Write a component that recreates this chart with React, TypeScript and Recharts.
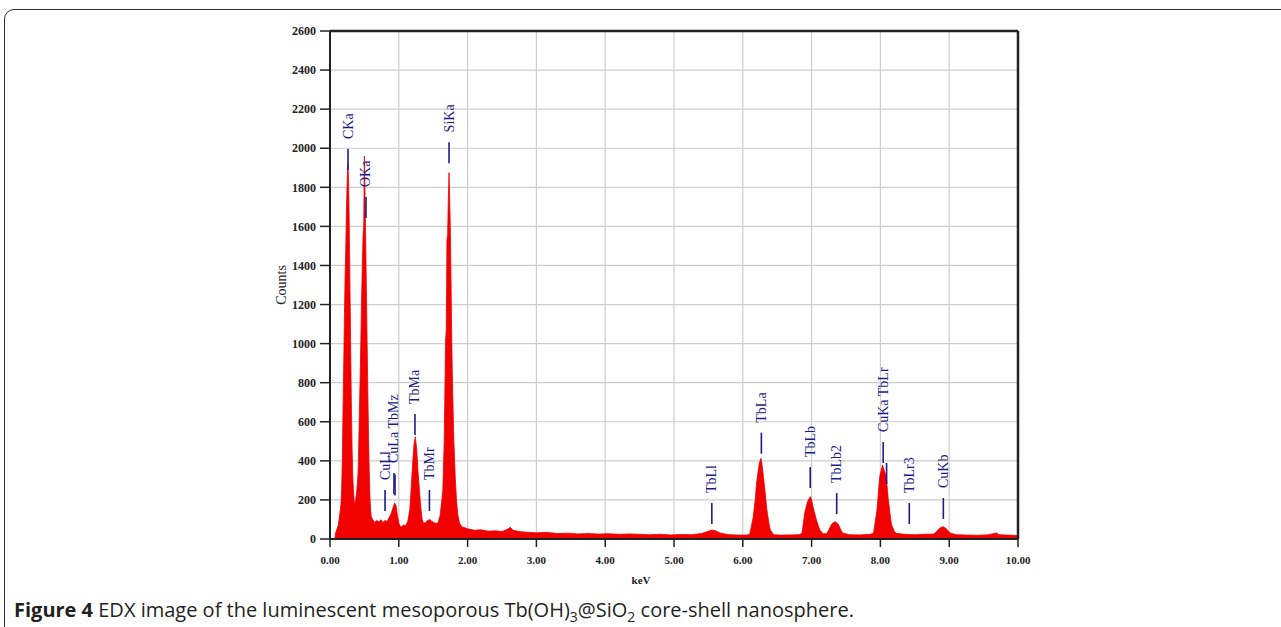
import {
  ComposedChart,
  Area,
  Scatter,
  XAxis,
  YAxis,
  CartesianGrid,
  ReferenceLine,
} from "recharts";

// EDX spectrum (keV vs counts)
const energies = [
  0.0, 0.07, 0.08, 0.1, 0.12, 0.14, 0.16, 0.17, 0.18, 0.19, 0.2, 0.21, 0.22,
  0.23, 0.24, 0.25, 0.26, 0.27, 0.28, 0.29, 0.3, 0.31, 0.32, 0.33, 0.34, 0.35,
  0.36, 0.37, 0.38, 0.39, 0.4, 0.41, 0.42, 0.43, 0.44, 0.45, 0.46, 0.47, 0.48,
  0.49, 0.5, 0.51, 0.52, 0.53, 0.54, 0.55, 0.56, 0.57, 0.58, 0.59, 0.6, 0.62,
  0.65, 0.68, 0.71, 0.74, 0.77, 0.8, 0.83, 0.86, 0.89, 0.92, 0.94, 0.96, 0.98,
  1.0, 1.02, 1.04, 1.07, 1.1, 1.13, 1.16, 1.18, 1.2, 1.22, 1.24, 1.26, 1.28,
  1.3, 1.32, 1.34, 1.36, 1.39, 1.42, 1.45, 1.48, 1.51, 1.54, 1.57, 1.6, 1.62,
  1.64, 1.66, 1.68, 1.69, 1.7, 1.71, 1.72, 1.73, 1.74, 1.75, 1.76, 1.77, 1.78,
  1.79, 1.8, 1.82, 1.84, 1.86, 1.88, 1.9, 1.93, 1.96, 2.0, 2.05, 2.1, 2.2, 2.3,
  2.4, 2.5, 2.58, 2.62, 2.66, 2.75, 2.85, 3.0, 3.15, 3.3, 3.45, 3.6, 3.75, 3.9,
  4.05, 4.2, 4.35, 4.5, 4.65, 4.8, 4.95, 5.1, 5.25, 5.4, 5.5, 5.55, 5.6, 5.68,
  5.8, 5.95, 6.05, 6.1, 6.15, 6.18, 6.2, 6.24, 6.265, 6.28, 6.3, 6.33, 6.35,
  6.38, 6.4, 6.45, 6.55, 6.7, 6.82, 6.86, 6.9, 6.94, 6.98, 7.0, 7.02, 7.05,
  7.07, 7.1, 7.12, 7.17, 7.22, 7.24, 7.29, 7.34, 7.39, 7.42, 7.45, 7.55, 7.7,
  7.85, 7.9, 7.95, 7.99, 8.03, 8.07, 8.09, 8.11, 8.14, 8.16, 8.2, 8.23, 8.35,
  8.5, 8.65, 8.78, 8.82, 8.87, 8.915, 8.96, 9.01, 9.1, 9.25, 9.4, 9.55, 9.69,
  9.72, 9.85, 10.0,
];

const spectrumCounts = [
  0, 0, 30, 50, 70, 120, 180, 260, 420, 680, 900, 1150, 1350, 1500, 1700, 1840,
  1920, 1840, 1600, 1300, 1000, 700, 480, 330, 250, 200, 180, 190, 220, 250,
  290, 360, 520, 700, 850, 1050, 1250, 1400, 1550, 1600, 1960, 1740, 1500, 1250,
  1000, 750, 520, 350, 220, 150, 114, 100, 85, 95, 88, 98, 85, 95, 90, 110, 130,
  165, 184, 170, 120, 80, 65, 63, 72, 68, 90, 150, 260, 380, 480, 523, 460, 340,
  250, 160, 100, 80, 85, 95, 100, 90, 85, 80, 82, 120, 180, 250, 500, 1018,
  1070, 1530, 1560, 1740, 1875, 1740, 1570, 1300, 1018, 800, 650, 507, 320, 190,
  120, 85, 70, 60, 58, 52, 48, 45, 47, 40, 42, 38, 50, 60, 45, 38, 35, 32, 34,
  28, 30, 26, 28, 25, 27, 24, 26, 24, 22, 24, 21, 23, 22, 28, 40, 46, 42, 30,
  22, 20, 20, 23, 109, 200, 286, 389, 413, 380, 319, 220, 148, 80, 46, 22, 20,
  21, 22, 29, 133, 191, 217, 200, 165, 125, 97, 65, 46, 26, 28, 40, 75, 89, 75,
  50, 31, 22, 21, 24, 29, 148, 319, 379, 336, 300, 217, 130, 75, 40, 29, 24, 22,
  24, 26, 40, 58, 63, 52, 31, 22, 20, 19, 21, 31, 22, 20, 18,
];

// peak identification markers
const lineNames = [
  "CKa", "OKa", "CuLl", "CuLa TbMz", "", "TbMa", "TbMr", "SiKa", "TbLl",
  "TbLa", "TbLb", "TbLb2", "CuKa TbLr", "", "TbLr3", "CuKb",
];
const lineEnergies = [
  0.262, 0.523, 0.8, 0.93, 0.945, 1.235, 1.445, 1.73, 5.55, 6.27, 6.98, 7.365,
  8.04, 8.09, 8.42, 8.915,
];
const lineTops = [
  1996, 1750, 251, 338, 330, 640, 251, 2030, 184, 544, 368, 235, 496, 389, 184,
  210,
];

const xTicks = [0, 1, 2, 3, 4, 5, 6, 7, 8, 9, 10];
const yTicks = [
  0, 200, 400, 600, 800, 1000, 1200, 1400, 1600, 1800, 2000, 2200, 2400, 2600,
];

const spectrum = energies.map((kev, i) => ({ kev, counts: spectrumCounts[i] }));
const markers = lineEnergies.map((kev, i) => ({
  kev,
  counts: lineTops[i],
  name: lineNames[i],
}));

const MarkerShape = (props: any) => {
  const { cx, cy, payload } = props;
  if (cx == null || cy == null) return null;
  const tx = cx + 4.5;
  const ty = cy - 10;
  return (
    <g>
      <line x1={cx} x2={cx} y1={cy} y2={cy + 21} stroke="#1c1c8a" strokeWidth={1.6} />
      {payload.name ? (
        <text
          x={tx}
          y={ty}
          transform={`rotate(-90 ${tx} ${ty})`}
          fill="#1c1c8a"
          fontSize={14}
          fontFamily="Liberation Serif, serif"
          textAnchor="start"
        >
          {payload.name}
        </text>
      ) : null}
    </g>
  );
};

const tickStyle = {
  fontFamily: "Liberation Serif, serif",
  fontWeight: 700,
  fill: "#222",
};

export default function App() {
  return (
    <div
      style={{
        position: "absolute",
        left: 0,
        top: 0,
        width: 1281,
        height: 627,
        overflow: "hidden",
        background: "#fff",
      }}
    >
      <div
        style={{
          position: "absolute",
          left: 4,
          top: 9,
          width: 1300,
          height: 660,
          border: "1.5px solid #333",
          borderRadius: 10,
        }}
      />
      <div style={{ position: "absolute", left: 0, top: 0 }}>
        <ComposedChart
          width={1281}
          height={627}
          data={spectrum}
          margin={{ top: 31, right: 263, bottom: 48, left: 270 }}
        >
          <CartesianGrid stroke="#cdcdcd" strokeWidth={1.2} />
          <XAxis
            dataKey="kev"
            type="number"
            domain={[0, 10]}
            ticks={xTicks}
            allowDataOverflow
            height={40}
            tickSize={8}
            tickMargin={9}
            tickFormatter={(v: number) => v.toFixed(2)}
            tick={{ ...tickStyle, fontSize: 11 }}
            axisLine={{ stroke: "#222", strokeWidth: 2 }}
            tickLine={{ stroke: "#222", strokeWidth: 1.5 }}
            label={{
              value: "keV",
              position: "insideBottom",
              offset: -5,
              dx: -33,
              style: { fontFamily: "Liberation Serif, serif", fontSize: 11, fontWeight: 700, fill: "#222" },
            }}
          />
          <YAxis
            type="number"
            domain={[0, 2600]}
            ticks={yTicks}
            allowDataOverflow
            width={60}
            tickSize={10}
            tickMargin={4}
            tick={{ ...tickStyle, fontSize: 12 }}
            axisLine={{ stroke: "#222", strokeWidth: 2 }}
            tickLine={{ stroke: "#222", strokeWidth: 1.5 }}
            label={{
              value: "Counts",
              angle: -90,
              position: "insideLeft",
              offset: 11,
              style: {
                textAnchor: "middle",
                fontFamily: "Liberation Serif, serif",
                fontSize: 14,
                fill: "#222",
              },
            }}
          />
          <ReferenceLine y={2600} stroke="#222" strokeWidth={2.5} />
          <ReferenceLine x={10} stroke="#222" strokeWidth={2.5} />
          <Area
            type="linear"
            dataKey="counts"
            stroke="#f00000"
            strokeWidth={0.8}
            fill="#f00000"
            fillOpacity={1}
            dot={false}
            activeDot={false}
            isAnimationActive={false}
          />
          <Scatter
            data={markers}
            dataKey="counts"
            shape={MarkerShape}
            isAnimationActive={false}
          />
        </ComposedChart>
      </div>
      <div
        style={{
          position: "absolute",
          left: 14,
          top: 596,
          fontFamily: "'Open Sans', 'Noto Sans', sans-serif",
          fontSize: 20,
          color: "#231f20",
          whiteSpace: "nowrap",
        }}
      >
        <b>Figure 4</b> EDX image of the luminescent mesoporous Tb(OH)
        <sub style={{ fontSize: 14 }}>3</sub>@SiO<sub style={{ fontSize: 14 }}>2</sub>{" "}
        core-shell nanosphere.
      </div>
    </div>
  );
}
